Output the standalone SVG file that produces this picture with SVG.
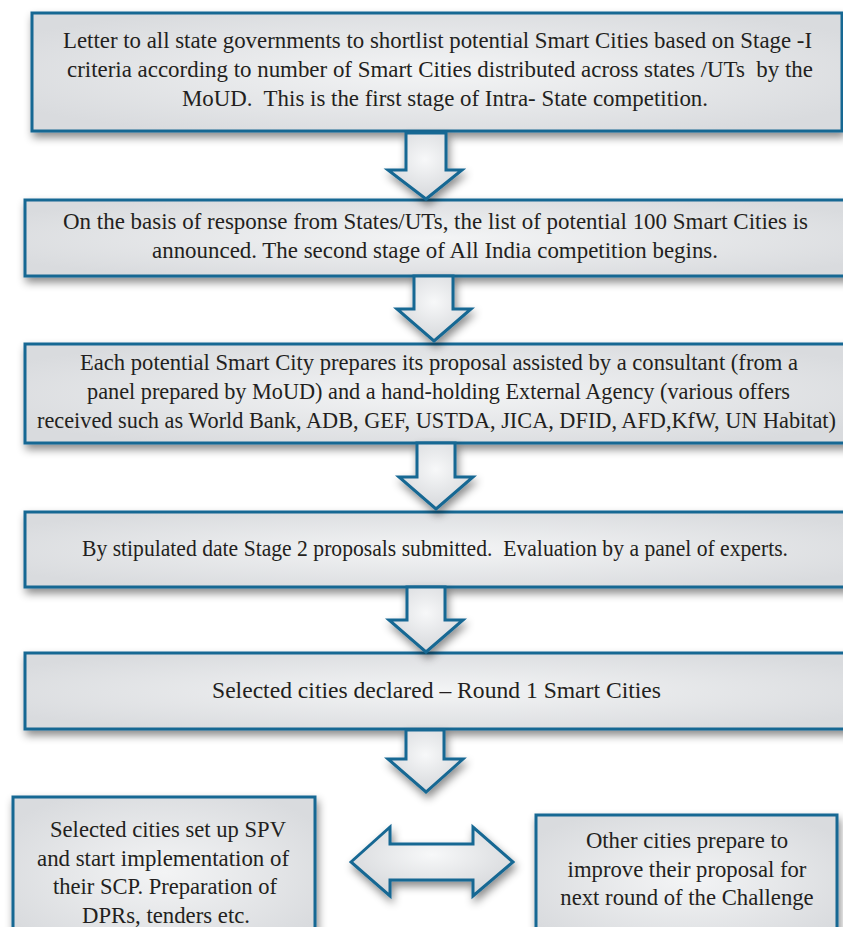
<svg xmlns="http://www.w3.org/2000/svg" width="843" height="927" viewBox="0 0 843 927">
<defs>
<radialGradient id="boxFill" cx="50%" cy="50%" r="60%">
<stop offset="0" stop-color="#f3f4f5"/>
<stop offset="1" stop-color="#d9dbde"/>
</radialGradient>
<radialGradient id="arrowFill" cx="50%" cy="40%" r="60%">
<stop offset="0" stop-color="#f7f8f9"/>
<stop offset="1" stop-color="#d6d8db"/>
</radialGradient>
<filter id="shadow" x="-10%" y="-20%" width="125%" height="150%">
<feDropShadow dx="2" dy="5" stdDeviation="4" flood-color="#000" flood-opacity="0.45"/>
</filter>
</defs>
<style>
.box{fill:url(#boxFill);stroke:#166793;stroke-width:3;filter:url(#shadow)}
.arr{fill:url(#arrowFill);stroke:#166793;stroke-width:3;stroke-linejoin:miter;filter:url(#shadow)}
.t{font-family:"Liberation Serif","Times New Roman",serif;font-size:22.7px;fill:#231f20;white-space:pre}
.c{text-anchor:middle}
</style>
<rect width="843" height="927" fill="#ffffff"/>

<g id="node1">
<rect class="box" x="32" y="13" width="810" height="118"/>
<text class="t" x="63" y="48" textLength="749" lengthAdjust="spacingAndGlyphs">Letter to all state governments to shortlist potential Smart Cities based on Stage -I</text>
<text class="t" x="67" y="77" textLength="746" lengthAdjust="spacingAndGlyphs">criteria according to number of Smart Cities distributed across states /UTs  by the</text>
<text class="t" x="182" y="106" textLength="526" lengthAdjust="spacingAndGlyphs">MoUD.  This is the first stage of Intra- State competition.</text>
</g>

<g id="node2">
<rect class="box" x="25" y="200" width="830" height="76"/>
<text class="t" x="63" y="229" textLength="745" lengthAdjust="spacingAndGlyphs">On the basis of response from States/UTs, the list of potential 100 Smart Cities is</text>
<text class="t" x="152" y="258" textLength="566" lengthAdjust="spacingAndGlyphs">announced. The second stage of All India competition begins.</text>
</g>

<g id="node3">
<rect class="box" x="25" y="344" width="830" height="99"/>
<text class="t" x="80" y="370" textLength="718" lengthAdjust="spacingAndGlyphs">Each potential Smart City prepares its proposal assisted by a consultant (from a</text>
<text class="t" x="87" y="399" textLength="703" lengthAdjust="spacingAndGlyphs">panel prepared by MoUD) and a hand-holding External Agency (various offers</text>
<text class="t" x="37" y="428" textLength="799" lengthAdjust="spacingAndGlyphs">received such as World Bank, ADB, GEF, USTDA, JICA, DFID, AFD,KfW, UN Habitat)</text>
</g>

<g id="node4">
<rect class="box" x="25" y="512" width="830" height="75"/>
<text class="t" x="82" y="556" textLength="706" lengthAdjust="spacingAndGlyphs">By stipulated date Stage 2 proposals submitted.  Evaluation by a panel of experts.</text>
</g>

<g id="node5">
<rect class="box" x="25" y="653" width="830" height="76"/>
<text class="t" x="212" y="698" textLength="449" lengthAdjust="spacingAndGlyphs">Selected cities declared – Round 1 Smart Cities</text>
</g>

<g id="node6">
<rect class="box" x="13" y="797" width="302" height="150"/>
<text class="t" x="50" y="837" textLength="236" lengthAdjust="spacingAndGlyphs">Selected cities set up SPV</text>
<text class="t" x="37" y="866" textLength="252" lengthAdjust="spacingAndGlyphs">and start implementation of</text>
<text class="t" x="53" y="894" textLength="224" lengthAdjust="spacingAndGlyphs">their SCP. Preparation of</text>
<text class="t" x="82" y="923" textLength="168" lengthAdjust="spacingAndGlyphs">DPRs, tenders etc.</text>
</g>

<g id="node7">
<rect class="box" x="536" y="815" width="301" height="130"/>
<text class="t c" x="687" y="848">Other cities prepare to</text>
<text class="t c" x="687" y="877">improve their proposal for</text>
<text class="t c" x="687" y="905">next round of the Challenge</text>
</g>

<g id="connectors">
<polygon class="arr" points="406,133 446,133 446,170 462,170 426,199 388,170 406,170"/>
<polygon class="arr" points="414,276 453,276 453,309 471,309 434,341 397,309 414,309"/>
<polygon class="arr" points="417,443 455,443 455,477 473,477 436,509 399,477 417,477"/>
<polygon class="arr" points="407,587 445,587 445,620 463,620 426,652 389,620 407,620"/>
<polygon class="arr" points="406,730 444,730 444,759 463,759 426,792 388,759 406,759"/>
<polygon class="arr" points="351,862 390,827 390,844 473,844 473,827 513,862 473,896 473,880 390,880 390,896"/>
</g>
</svg>
